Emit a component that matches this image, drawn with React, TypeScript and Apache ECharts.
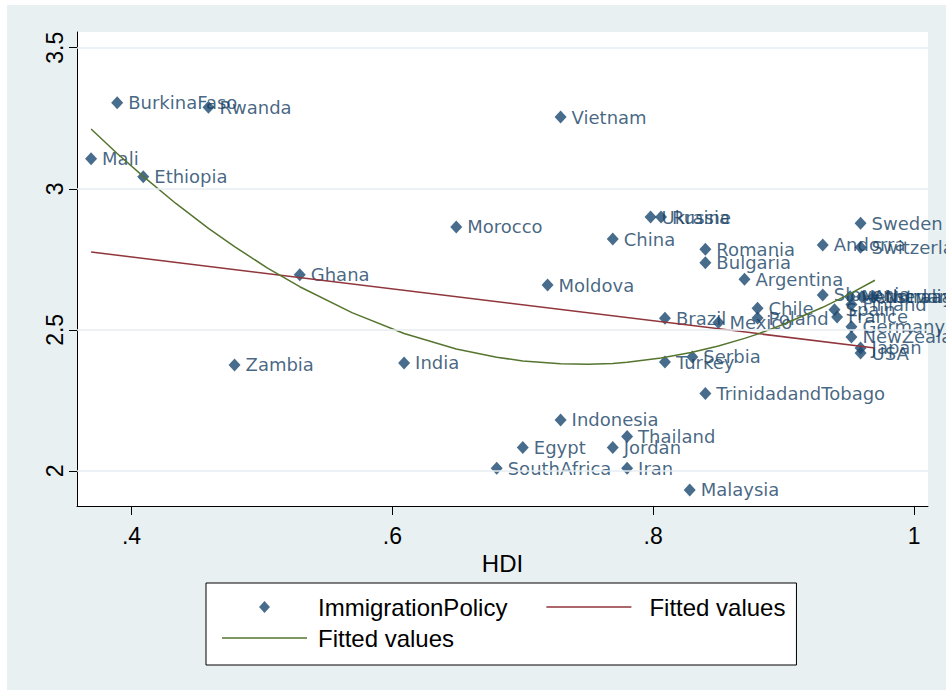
import React, { useEffect, useRef } from "react";
import * as echarts from "echarts";

// Scatter data: country, HDI, immigration policy score
const countries = [
  "BurkinaFaso", "Rwanda", "Mali", "Ethiopia", "Vietnam", "Morocco", "Ukraine", "Russia",
  "China", "Romania", "Bulgaria", "Argentina", "Andorra", "Sweden", "Switzerland", "Ghana",
  "Moldova", "Brazil", "Mexico", "Chile", "Poland", "Turkey", "Serbia", "Zambia", "India",
  "TrinidadandTobago", "Indonesia", "Thailand", "Egypt", "Jordan", "SouthAfrica", "Iran",
  "Malaysia", "Slovenia", "Netherlands", "Australia", "Norway", "Finland", "Spain", "France",
  "Germany", "NewZealand", "Japan", "USA"
];
const hdi = [
  0.389, 0.459, 0.369, 0.409, 0.729, 0.649, 0.798, 0.806,
  0.769, 0.840, 0.840, 0.870, 0.930, 0.959, 0.959, 0.529,
  0.719, 0.809, 0.850, 0.880, 0.880, 0.809, 0.830, 0.479, 0.609,
  0.840, 0.729, 0.780, 0.700, 0.769, 0.680, 0.780,
  0.828, 0.930, 0.951, 0.960, 0.969, 0.952, 0.939, 0.941,
  0.952, 0.952, 0.959, 0.959
];
const policy = [
  3.305, 3.289, 3.106, 3.043, 3.254, 2.865, 2.900, 2.900,
  2.822, 2.786, 2.738, 2.679, 2.801, 2.878, 2.793, 2.695,
  2.659, 2.541, 2.526, 2.577, 2.542, 2.386, 2.404, 2.376, 2.383,
  2.275, 2.181, 2.122, 2.083, 2.083, 2.010, 2.010,
  1.933, 2.624, 2.617, 2.617, 2.617, 2.590, 2.571, 2.546,
  2.511, 2.475, 2.436, 2.418
];

// Linear fitted values (read at the ends of the red line)
const fitLinearX = [0.369, 0.970];
const fitLinearY = [2.776, 2.436];

// Quadratic fitted values
const fitQuadX = [
  0.369, 0.389, 0.409, 0.434, 0.459, 0.479, 0.504, 0.529, 0.569, 0.609, 0.649, 0.680, 0.700,
  0.729, 0.750, 0.769, 0.780, 0.806, 0.829, 0.850, 0.870, 0.880, 0.900, 0.930, 0.950, 0.970
];
const fitQuadY = [
  3.212, 3.125, 3.044, 2.948, 2.860, 2.795, 2.720, 2.653, 2.561, 2.487, 2.432, 2.403, 2.390,
  2.380, 2.378, 2.381, 2.385, 2.400, 2.420, 2.443, 2.470, 2.485, 2.520, 2.580, 2.626, 2.676
];

const xTicks = [0.4, 0.6, 0.8, 1];
const yTicks = [2, 2.5, 3, 3.5];

const NAVY = "#1a476f";
const MAROON = "#90353b";
const GREEN = "#55752f";
const BG = "#e8f0f2";

export default function App() {
  const ref = useRef<HTMLDivElement>(null);

  useEffect(() => {
    if (!ref.current) return;
    const chart = echarts.init(ref.current, undefined, { renderer: "svg" });

    const scatterData = countries.map((c, i) => [hdi[i], policy[i], c]);
    const linData = fitLinearX.map((x, i) => [x, fitLinearY[i]]);
    const quadData = fitQuadX.map((x, i) => [x, fitQuadY[i]]);

    const axisFont = "'Liberation Sans', Arial, sans-serif";
    const lineIcon = "path://M0,0L85,0L85,1.6L0,1.6Z";

    chart.setOption({
      animation: false,
      backgroundColor: BG,
      graphic: [
        { type: "rect", shape: { x: 0, y: 0, width: 7, height: 690 }, style: { fill: "#ffffff" }, silent: true },
        { type: "rect", shape: { x: 0, y: 0, width: 946, height: 5 }, style: { fill: "#ffffff" }, silent: true }
      ],
      grid: {
        left: 77,
        top: 32,
        right: 18,
        bottom: 184,
        show: true,
        backgroundColor: "#ffffff",
        borderWidth: 0,
        containLabel: false,
        outerBoundsMode: "none"
      },
      xAxis: {
        type: "value",
        min: 0.3582,
        max: 1.0107,
        name: "HDI",
        nameLocation: "middle",
        nameGap: 44,
        nameTextStyle: { fontSize: 24, color: "#000", fontFamily: axisFont },
        axisLine: { show: true, onZero: false, lineStyle: { color: "#000", width: 1 } },
        axisTick: { show: true, length: 9, customValues: xTicks, lineStyle: { color: "#000", width: 1 } },
        axisLabel: {
          show: true,
          customValues: xTicks,
          margin: 18,
          fontSize: 23,
          color: "#000",
          fontFamily: axisFont,
          formatter: (v: number) => (v === 1 ? "1" : String(v).replace(/^0/, ""))
        },
        splitLine: { show: false }
      },
      yAxis: {
        type: "value",
        min: 1.8759,
        max: 3.5556,
        axisLine: { show: true, onZero: false, lineStyle: { color: "#000", width: 1 } },
        axisTick: { show: true, length: 8, customValues: yTicks, lineStyle: { color: "#000", width: 1 } },
        axisLabel: {
          show: true,
          customValues: yTicks,
          rotate: 90,
          margin: 11,
          fontSize: 23,
          color: "#000",
          fontFamily: axisFont,
          formatter: (v: number) => String(v)
        },
        splitLine: { show: false }
      },
      legend: {
        left: 206,
        top: 583,
        width: 600,
        orient: "horizontal",
        itemWidth: 85,
        itemHeight: 12,
        itemGap: 5,
        padding: [11, 11, 14, 16],
        backgroundColor: "#ffffff",
        borderColor: "#000",
        borderWidth: 1,
        borderRadius: 0,
        textStyle: { fontSize: 24, color: "#000", fontFamily: axisFont, lineHeight: 26, padding: [0, 0, 0, 6] },
        formatter: (name: string) => (name === "ImmigrationPolicy" ? name : "Fitted values"),
        data: [
          {
            name: "ImmigrationPolicy",
            icon: "path://M5,0L10,5.5L5,11L0,5.5Z",
            textStyle: { padding: [0, 34, 0, 6] }
          },
          { name: "FittedLinear", icon: lineIcon, textStyle: { padding: [0, 0, 0, 13] } },
          { name: "FittedQuadratic", icon: lineIcon }
        ]
      },
      series: [
        {
          name: "gridlines",
          type: "line",
          data: [],
          silent: true,
          markLine: {
            silent: true,
            symbol: ["none", "none"],
            label: { show: false },
            lineStyle: { color: "#e4edf0", width: 1.5, type: "solid" },
            data: yTicks.map((v) => ({ yAxis: v }))
          }
        },
        {
          name: "ImmigrationPolicy",
          type: "scatter",
          data: scatterData,
          symbol: "diamond",
          symbolSize: [12, 13],
          itemStyle: { color: NAVY },
          label: {
            show: true,
            position: "right",
            distance: 5,
            color: "#163f64",
            fontSize: 18,
            fontFamily: "'DejaVu Sans', sans-serif",
            formatter: (p: any) => p.data[2]
          }
        },
        {
          name: "FittedLinear",
          type: "line",
          data: linData,
          symbol: "none",
          showSymbol: false,
          lineStyle: { color: MAROON, width: 1.5 },
          itemStyle: { color: MAROON }
        },
        {
          name: "FittedQuadratic",
          type: "line",
          data: quadData,
          symbol: "none",
          showSymbol: false,
          smooth: false,
          lineStyle: { color: GREEN, width: 1.5 },
          itemStyle: { color: GREEN }
        }
      ]
    });

    return () => chart.dispose();
  }, []);

  return (
    <div
      ref={ref}
      style={{ position: "fixed", left: 0, top: 0, width: 946, height: 690 }}
    />
  );
}
